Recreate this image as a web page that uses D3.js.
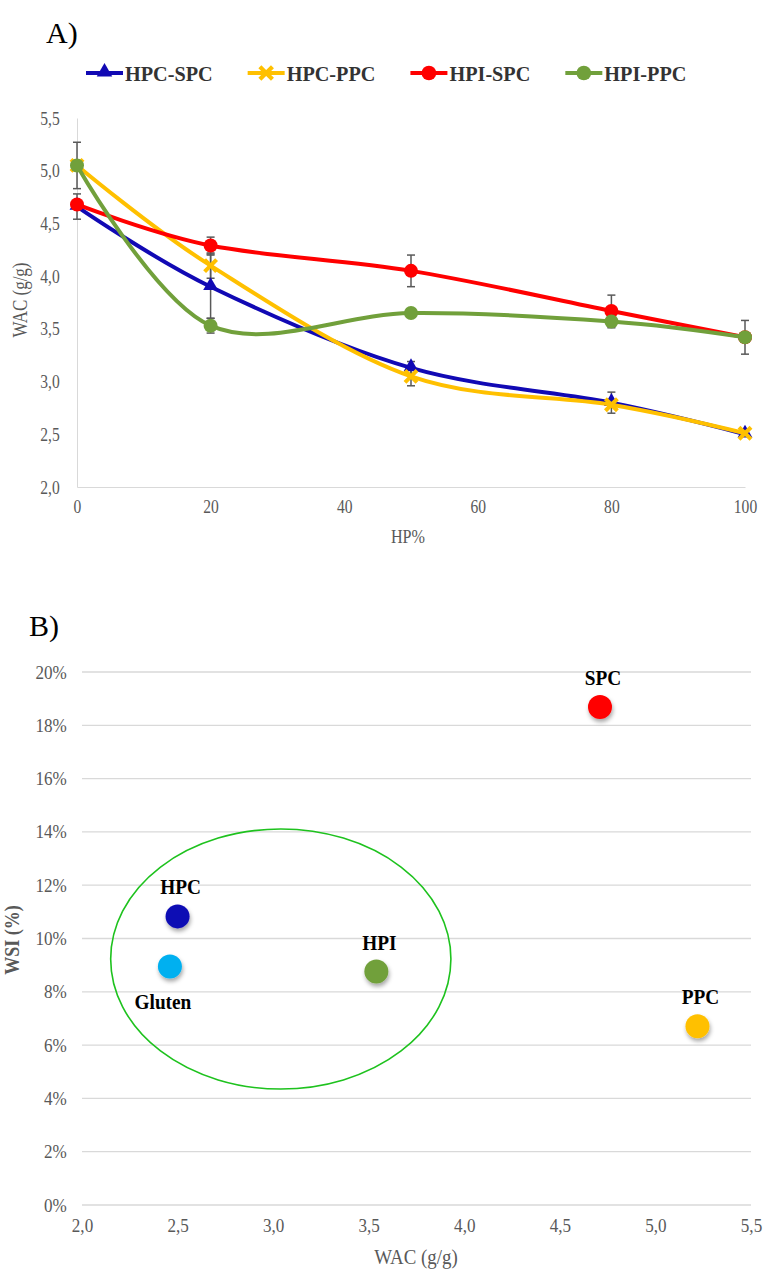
<!DOCTYPE html>
<meta charset="utf-8">
<style>
body { margin: 0; background: #fff; }
svg, text { font-family: "Liberation Serif", "Times New Roman", serif; }
.tick text { fill: #595959; }
.axis path, .axis line { stroke: #d9d9d9; }
.line { fill: none; stroke-width: 4px; }
.err { stroke: #595959; stroke-width: 1.5px; }
.grid line { stroke: #d9d9d9; stroke-width: 1.3px; }
</style>
<body>
<script src="https://d3js.org/d3.v7.min.js"></script>
<script>

// ---- panel A data: WAC vs HP% ----
var hpLevels = [0, 20, 50, 80, 100];
var seriesNames = ["HPC-SPC", "HPC-PPC", "HPI-SPC", "HPI-PPC"];
var seriesColors = ["#1109b4", "#ffc000", "#ff0000", "#71a03b"];
var seriesMarkers = ["triangle", "cross", "circle", "circle"];
var wacHpcSpc = [4.66, 3.90, 3.13, 2.80, 2.50];
var wacHpcPpc = [5.05, 4.10, 3.05, 2.78, 2.51];
var wacHpiSpc = [4.68, 4.29, 4.05, 3.67, 3.42];
var wacHpiPpc = [5.05, 3.53, 3.65, 3.57, 3.42];
// error bars (+/-), 0 where none is drawn
var errHpcSpc = [0.12, 0.30, 0.06, 0.10, 0];
var errHpcPpc = [0, 0.12, 0.09, 0, 0];
var errHpiSpc = [0, 0.08, 0.15, 0.15, 0];
var errHpiPpc = [0.22, 0.07, 0, 0.06, 0.16];
var xTicksA = [0, 20, 40, 60, 80, 100];
var yTicksA = [2.0, 2.5, 3.0, 3.5, 4.0, 4.5, 5.0, 5.5];

// ---- panel B data: WSI vs WAC ----
var proteins = ["HPC", "Gluten", "HPI", "SPC", "PPC"];
var proteinWac = [2.50, 2.46, 3.54, 4.71, 5.22];
var proteinWsi = [0.1083, 0.0895, 0.0876, 0.1869, 0.0671];
var proteinColors = ["#1109b4", "#00b0f0", "#71a03b", "#ff0000", "#ffc000"];
var labelBelow = [false, true, false, false, false];
var xTicksB = [2.0, 2.5, 3.0, 3.5, 4.0, 4.5, 5.0, 5.5];
var yTicksB = [0, 0.02, 0.04, 0.06, 0.08, 0.10, 0.12, 0.14, 0.16, 0.18, 0.20];
// grouping ellipse (centre and radii in data units)
var groupEllipse = {wac: 3.04, wsi: 0.0923, rWac: 0.89, rWsi: 0.0488};

var locale = d3.formatLocale({decimal: ",", thousands: ".", grouping: [3], currency: ["", "€"]});
var fmt1 = locale.format(".1f");

var svg = d3.select("body").append("svg")
    .attr("width", 763)
    .attr("height", 1272);

var defs = svg.append("defs");
var shadow = defs.append("filter").attr("id", "shadow")
    .attr("x", "-50%").attr("y", "-50%").attr("width", "200%").attr("height", "200%");
shadow.append("feDropShadow")
    .attr("dx", 1).attr("dy", 3).attr("stdDeviation", 2)
    .attr("flood-color", "#000").attr("flood-opacity", 0.35);

// =================== Panel A ===================
var xA = d3.scaleLinear().domain([0, 100]).range([77, 745]);
var yA = d3.scaleLinear().domain([2, 5.5]).range([487, 118]);

svg.append("text")
    .attr("x", 46).attr("y", 43)
    .style("font-size", "30px")
    .text("A)");

var xAxisA = svg.append("g")
    .attr("class", "axis")
    .attr("transform", "translate(0,487)")
    .call(d3.axisBottom(xA).tickValues(xTicksA).tickSize(0).tickPadding(13));
xAxisA.attr("font-family", null);
xAxisA.selectAll("text").style("font-size", "19px").attr("transform", "scale(0.82,1)");

var yAxisA = svg.append("g")
    .attr("class", "axis")
    .attr("transform", "translate(77,0)")
    .call(d3.axisLeft(yA).tickValues(yTicksA).tickFormat(fmt1).tickSize(0).tickPadding(21));
yAxisA.attr("font-family", null);
yAxisA.selectAll("text").style("font-size", "19px").attr("transform", "scale(0.82,1)");

svg.append("text")
    .attr("transform", "translate(408,543) scale(0.85,1)")
    .attr("text-anchor", "middle")
    .style("font-size", "19px").style("fill", "#595959")
    .text("HP%");

svg.append("text")
    .attr("transform", "translate(27,300) rotate(-90) scale(0.85,1)")
    .attr("text-anchor", "middle")
    .style("font-size", "20px").style("fill", "#595959")
    .text("WAC (g/g)");

var seriesVals = [wacHpcSpc, wacHpcPpc, wacHpiSpc, wacHpiPpc];
var seriesErr = [errHpcSpc, errHpcPpc, errHpiSpc, errHpiPpc];
var series = seriesNames.map(function(name, i) {
  return {
    name: name, color: seriesColors[i], marker: seriesMarkers[i],
    values: hpLevels.map(function(h, j) {
      return {hp: h, wac: seriesVals[i][j], err: seriesErr[i][j]};
    })
  };
});

var valueline = d3.line()
    .x(function(d) { return xA(d.hp); })
    .y(function(d) { return yA(d.wac); })
    .curve(d3.curveCardinal.tension(0));

function drawMarker(g, type, color, scale) {
  scale = scale || 1;
  if (type === "triangle") {
    g.append("path")
        .attr("d", d3.symbol().type(d3.symbolTriangle).size(95 * scale * scale)())
        .attr("transform", "translate(0,-1)")
        .attr("fill", color);
  } else if (type === "cross") {
    var s = 6 * scale;
    g.append("path")
        .attr("d", "M" + -s + "," + -s + "L" + s + "," + s + "M" + -s + "," + s + "L" + s + "," + -s)
        .attr("stroke", color).attr("stroke-width", 4 * scale).attr("fill", "none");
  } else {
    g.append("circle").attr("r", 7 * scale).attr("fill", color);
  }
}

series.forEach(function(s) {
  // error bars first
  var eb = svg.append("g");
  s.values.filter(function(d) { return d.err > 0; }).forEach(function(d) {
    var x = xA(d.hp), y0 = yA(d.wac - d.err), y1 = yA(d.wac + d.err);
    eb.append("line").attr("class", "err").attr("x1", x).attr("x2", x).attr("y1", y0).attr("y2", y1);
    eb.append("line").attr("class", "err").attr("x1", x - 4).attr("x2", x + 4).attr("y1", y0).attr("y2", y0);
    eb.append("line").attr("class", "err").attr("x1", x - 4).attr("x2", x + 4).attr("y1", y1).attr("y2", y1);
  });
});

series.forEach(function(s) {
  svg.append("path")
      .datum(s.values)
      .attr("class", "line")
      .style("stroke", s.color)
      .attr("d", valueline);
  s.values.forEach(function(d) {
    var g = svg.append("g").attr("transform", "translate(" + xA(d.hp) + "," + yA(d.wac) + ")");
    drawMarker(g, s.marker, s.color);
  });
});

// legend
var legend = svg.append("g").attr("transform", "translate(86,73)");
var lx = 0;
series.forEach(function(s) {
  var g = legend.append("g").attr("transform", "translate(" + lx + ",0)");
  g.append("line").attr("x1", 0).attr("x2", 37).attr("y1", 0).attr("y2", 0)
      .attr("stroke", s.color).attr("stroke-width", 4);
  var m = g.append("g").attr("transform", "translate(18.5,0)");
  drawMarker(m, s.marker, s.color, 1.05);
  var t = g.append("text")
      .attr("transform", "translate(39,7.5) scale(0.92,1)")
      .style("font-size", "22px").style("font-weight", "bold").style("fill", "#333")
      .text(s.name);
  lx += 39 + t.node().getComputedTextLength() * 0.92 + 35;
});

// =================== Panel B ===================
var xB = d3.scaleLinear().domain([2, 5.5]).range([82, 751]);
var yB = d3.scaleLinear().domain([0, 0.2]).range([1205, 672]);

svg.append("text")
    .attr("x", 29).attr("y", 636)
    .style("font-size", "30px")
    .text("B)");

svg.append("g")
    .attr("class", "grid")
    .selectAll("line")
    .data(yTicksB)
    .enter().append("line")
    .attr("x1", 82).attr("x2", 751)
    .attr("y1", function(d) { return yB(d); })
    .attr("y2", function(d) { return yB(d); });

var yAxisB = svg.append("g")
    .attr("transform", "translate(82,0)")
    .call(d3.axisLeft(yB).tickValues(yTicksB).tickFormat(d3.format(".0%")).tickSize(0).tickPadding(17));
yAxisB.attr("font-family", null);
yAxisB.select(".domain").remove();
yAxisB.selectAll("text").style("font-size", "19px").attr("transform", "scale(0.9,1)");

var xAxisB = svg.append("g")
    .attr("transform", "translate(0,1205)")
    .call(d3.axisBottom(xB).tickValues(xTicksB).tickFormat(fmt1).tickSize(0).tickPadding(14));
xAxisB.attr("font-family", null);
xAxisB.select(".domain").remove();
xAxisB.selectAll("text").style("font-size", "19px").attr("transform", "scale(0.9,1)");

svg.append("text")
    .attr("transform", "translate(416,1264) scale(0.9,1)")
    .attr("text-anchor", "middle")
    .style("font-size", "21px").style("fill", "#595959")
    .text("WAC (g/g)");

svg.append("text")
    .attr("transform", "translate(19,940) rotate(-90) scale(0.9,1)")
    .attr("text-anchor", "middle")
    .style("font-size", "20px").style("font-weight", "bold").style("fill", "#595959")
    .text("WSI (%)");

svg.append("ellipse")
    .attr("cx", xB(groupEllipse.wac))
    .attr("cy", yB(groupEllipse.wsi))
    .attr("rx", xB(groupEllipse.wac + groupEllipse.rWac) - xB(groupEllipse.wac))
    .attr("ry", yB(groupEllipse.wsi) - yB(groupEllipse.wsi + groupEllipse.rWsi))
    .attr("fill", "none")
    .attr("stroke", "#1ec21e")
    .attr("stroke-width", 1.6);

var pts = proteins.map(function(p, i) {
  return {name: p, wac: proteinWac[i], wsi: proteinWsi[i], color: proteinColors[i], below: labelBelow[i]};
});

svg.append("g").selectAll("circle")
    .data(pts)
    .enter().append("circle")
    .attr("cx", function(d) { return xB(d.wac); })
    .attr("cy", function(d) { return yB(d.wsi); })
    .attr("r", 12)
    .attr("fill", function(d) { return d.color; })
    .attr("filter", "url(#shadow)");

svg.append("g").selectAll("text")
    .data(pts)
    .enter().append("text")
    .attr("transform", function(d) {
      return "translate(" + (xB(d.wac) + (d.below ? -7 : 3)) + "," +
          (yB(d.wsi) + (d.below ? 43 : -22)) + ") scale(0.92,1)";
    })
    .attr("text-anchor", "middle")
    .style("font-size", "21px").style("font-weight", "bold").style("fill", "#000")
    .text(function(d) { return d.name; });

</script>
</body>
